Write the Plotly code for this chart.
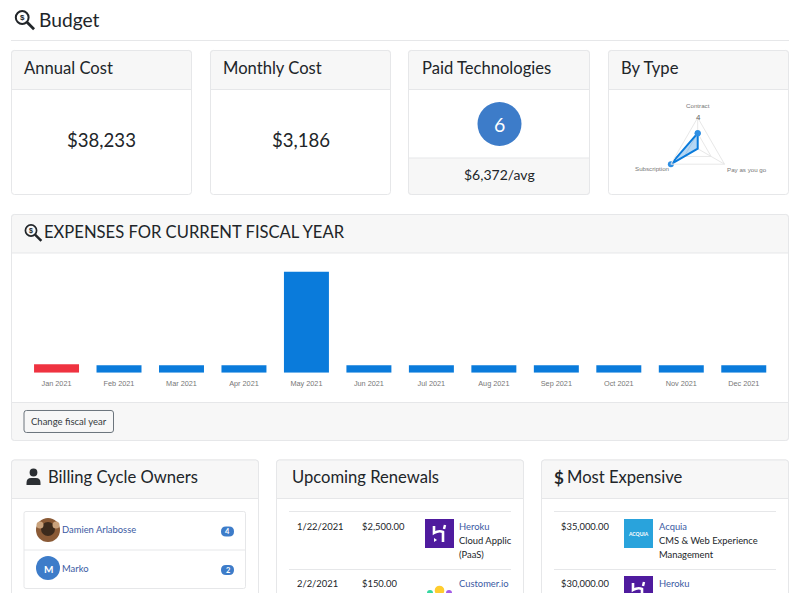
import plotly.graph_objects as go

# ---------- data ----------
months = ["Jan 2021", "Feb 2021", "Mar 2021", "Apr 2021", "May 2021", "Jun 2021",
          "Jul 2021", "Aug 2021", "Sep 2021", "Oct 2021", "Nov 2021", "Dec 2021"]
expenses = [1750, 1540, 1540, 1540, 21000, 1540, 1540, 1540, 1540, 1540, 1540, 1540]
bar_colors = ["#ef3340"] + ["#0a7bdb"] * 11
type_names = ["Contract", "Pay as you go", "Subscription"]
type_counts = [2, 0, 4]

W, H = 800, 593
FONT = "Lato"
INK = "#212529"
LINK = "#3b5aa3"
BORDER = "#e6e7e9"
HEAD = "#f7f7f7"
BLUE = "#3d7cc9"
BODY = 9.4
TITLE = 16.6

shapes, notes = [], []


def X(v):
    return v / W


def Y(v):
    return 1 - v / H


def rounded(x0, y0, x1, y1, r):
    return (f"M{x0+r},{y0} L{x1-r},{y0} Q{x1},{y0} {x1},{y0+r} L{x1},{y1-r} Q{x1},{y1} {x1-r},{y1} "
            f"L{x0+r},{y1} Q{x0},{y1} {x0},{y1-r} L{x0},{y0+r} Q{x0},{y0} {x0+r},{y0} Z")


def px_path(d):
    """Path given in pixel coordinates -> paper coordinates."""
    out, toks = [], d.replace("Z", " Z ").split()
    for t in toks:
        if t == "Z":
            out.append("Z")
            continue
        cmd = t[0] if t[0].isalpha() else ""
        nums = t[len(cmd):].split(",")
        out.append(f"{cmd}{X(float(nums[0])):.5f},{Y(float(nums[1])):.5f}")
    return " ".join(out)


def path(d, fill=None, line=None, lw=1):
    shapes.append(dict(type="path", xref="paper", yref="paper", path=px_path(d), layer="below",
                       fillcolor=fill or "rgba(0,0,0,0)",
                       line=dict(color=line or "rgba(0,0,0,0)", width=lw if line else 0)))


def rect(x0, y0, x1, y1, fill=None, line=None, r=0, lw=1):
    if r:
        path(rounded(x0, y0, x1, y1, r), fill, line, lw)
    else:
        shapes.append(dict(type="rect", xref="paper", yref="paper", x0=X(x0), x1=X(x1), y0=Y(y0), y1=Y(y1),
                           layer="below", fillcolor=fill or "rgba(0,0,0,0)",
                           line=dict(color=line or "rgba(0,0,0,0)", width=lw if line else 0)))


def circle(cx, cy, r, fill=None, line=None, lw=1):
    shapes.append(dict(type="circle", xref="paper", yref="paper", x0=X(cx - r), x1=X(cx + r), y0=Y(cy - r),
                       y1=Y(cy + r), layer="below", fillcolor=fill or "rgba(0,0,0,0)",
                       line=dict(color=line or "rgba(0,0,0,0)", width=lw if line else 0)))


def hline(x0, x1, y, color=BORDER, lw=1):
    shapes.append(dict(type="line", xref="paper", yref="paper", x0=X(x0), x1=X(x1), y0=Y(y), y1=Y(y),
                       layer="below", line=dict(color=color, width=lw)))


def text(x, y, s, size=10, color=INK, anchor="left", family=FONT, bold=False):
    notes.append(dict(xref="paper", yref="paper", x=X(x), y=Y(y), text=f"<b>{s}</b>" if bold else s,
                      showarrow=False, xanchor=anchor, yanchor="middle",
                      font=dict(family=family, size=size, color=color), borderpad=0, borderwidth=0))


def card(x0, y0, x1, y1, head_bottom, title, tx, size=TITLE, foot_top=None):
    rect(x0, y0, x1, y1, "#ffffff", BORDER, 3)
    r = 3
    path(f"M{x0},{head_bottom} L{x0},{y0+r} Q{x0},{y0} {x0+r},{y0} L{x1-r},{y0} Q{x1},{y0} {x1},{y0+r} "
         f"L{x1},{head_bottom} Z", HEAD, BORDER)
    if foot_top:
        path(f"M{x0},{foot_top} L{x1},{foot_top} L{x1},{y1-r} Q{x1},{y1} {x1-r},{y1} L{x0+r},{y1} "
             f"Q{x0},{y1} {x0},{y1-r} Z", HEAD, BORDER)
    text(tx, (y0 + head_bottom) / 2 - 2, title, size)


def search_dollar(cx, cy, r, lw):
    circle(cx, cy, r, None, "#212529", lw)
    hx = r * 0.72
    path(f"M{cx+hx},{cy+hx} L{cx+r*1.85},{cy+r*1.85}", None, "#212529", lw + 0.8)
    text(cx, cy + 0.3, "$", r * 1.25, "#212529", "center", "Liberation Sans", True)


def heroku(x0, y0):
    rect(x0, y0, x0 + 29, y0 + 29, "#4f1b9e")
    path(f"M{x0+9},{y0+7} L{x0+9},{y0+14} Q{x0+14},{y0+11} {x0+18},{y0+13} L{x0+18},{y0+23}",
         None, "#ffffff", 2.6)
    path(f"M{x0+20},{y0+6} L{x0+19},{y0+10}", None, "#ffffff", 2.4)
    path(f"M{x0+9},{y0+19} L{x0+12},{y0+21} L{x0+9},{y0+23} Z", "#ffffff")


# ---------- page header ----------
search_dollar(22.2, 17.5, 6.4, 2)
text(39, 19.5, "Budget", 19.2)
hline(11, 789, 40.5)

# ---------- stat cards ----------
card(11.5, 50.5, 191.5, 194.5, 89.5, "Annual Cost", 24)
text(101.5, 140, "$38,233", 18.6, INK, "center")
card(210.5, 50.5, 390.5, 194.5, 89.5, "Monthly Cost", 223)
text(300.5, 140, "$3,186", 18.6, INK, "center")
card(408.5, 50.5, 589.5, 194.5, 89.5, "Paid Technologies", 421.5, foot_top=158)
circle(499.5, 124, 22, BLUE)
text(499.5, 124.5, "6", 19.5, "#ffffff", "center")
text(499.5, 174.5, "$6,372/avg", 14, INK, "center")
card(608.5, 50.5, 788.5, 194.5, 89.5, "By Type", 620.5)

# ---------- expenses ----------
card(11.5, 214.5, 788.5, 440.5, 253, "EXPENSES FOR CURRENT FISCAL YEAR", 44)
path("M11.5,402.5 L788.5,402.5 L788.5,437.5 Q788.5,440.5 785.5,440.5 L14.5,440.5 Q11.5,440.5 11.5,437.5 Z",
     HEAD, BORDER)
search_dollar(31, 230.5, 5.6, 1.7)
rect(24, 410.5, 113.5, 432.5, "#f7f7f7", "#6c757d", 2.5)
text(68.7, 421.5, "Change fiscal year", 9.5, "#343a40", "center")

# ---------- bottom cards ----------
card(11.5, 460, 258.5, 610, 498.5, "Billing Cycle Owners", 48)
circle(33.5, 472.5, 3.9, "#2b2f33")
path("M26.5,485 L26.5,483 Q26.5,478 31,478 L36,478 Q40.5,478 40.5,483 L40.5,485 Z", "#2b2f33")
rect(24, 511.5, 245.5, 588.5, "#ffffff", BORDER, 2)
hline(24, 245.5, 550)
circle(48, 530, 12, "#8a5a36")
circle(48, 529, 7, "#3c2a1c")
circle(40, 525, 3.5, "#c9a27c")
circle(56, 525, 3.5, "#c9a27c")
text(62, 529.5, "Damien Arlabosse", BODY, LINK)
circle(48, 568, 12, BLUE)
text(48, 569, "M", 10, "#ffffff", "center", FONT, True)
text(62, 568, "Marko", BODY, LINK)
for by, n in [(531.5, "4"), (570, "2")]:
    rect(221, by - 5, 234, by + 5, BLUE, None, 5)
    text(227.5, by, n, 7.5, "#ffffff", "center", FONT, True)

card(276.5, 460, 523.5, 610, 498.5, "Upcoming Renewals", 292)
hline(289, 511, 511.5)
hline(289, 511, 569.5)
text(296.5, 526, "1/22/2021", BODY)
text(362, 526, "$2,500.00", BODY)
heroku(425, 519)
text(459, 526, "Heroku", BODY, LINK)
text(459, 540, "Cloud Applic", BODY)
text(459, 554, "(PaaS)", BODY)
text(296.5, 583, "2/2/2021", BODY)
text(362, 583, "$150.00", BODY)
text(459, 583, "Customer.io", BODY, LINK)
circle(439.5, 590.5, 4.8, "#ffcd2e")
circle(430, 593, 3, "#35d6a0")
circle(449, 593, 3, "#a25be6")

card(541.5, 460, 788.5, 610, 498.5, "Most Expensive", 566.5)
text(559, 477, "$", 17, "#212529", "center", FONT, True)
hline(554, 776, 511.5)
hline(554, 776, 569.5)
text(561, 526, "$35,000.00", BODY)
rect(624, 519, 653, 548, "#29a3dc")
text(638.5, 533.5, "ACQUIA", 5, "#ffffff", "center", FONT, True)
text(658.5, 526, "Acquia", BODY, LINK)
text(658.5, 540, "CMS &amp; Web Experience", BODY)
text(658.5, 554, "Management", BODY)
text(561, 583, "$30,000.00", BODY)
heroku(624, 576)
text(658.5, 583, "Heroku", BODY, LINK)

# ---------- figure ----------
fig = go.Figure()
fig.add_trace(go.Bar(x=months, y=expenses, marker=dict(color=bar_colors, line=dict(width=0)),
                     width=0.72, showlegend=False, xaxis="x", yaxis="y"))
fig.add_trace(go.Scatterpolar(
    r=type_counts + type_counts[:1], theta=type_names + type_names[:1],
    mode="lines+markers", fill="toself", fillcolor="rgba(10,123,219,0.3)",
    line=dict(color="#0a7bdb", width=2), marker=dict(color="#2f8fe3", size=6),
    cliponaxis=False, showlegend=False, subplot="polar"))

RADAR_FONT = "Liberation Sans"
text(698, 117.5, "4", 8, "#666666", "center", RADAR_FONT)
text(697.7, 105.5, type_names[0], 6.2, "#777777", "center", RADAR_FONT)
text(669.5, 168.5, type_names[2], 6.2, "#777777", "right", RADAR_FONT)
text(727, 169, type_names[1], 6.2, "#777777", "left", RADAR_FONT)

fig.update_layout(
    width=W, height=H, autosize=False,
    margin=dict(l=0, r=0, t=0, b=0),
    paper_bgcolor="#ffffff", plot_bgcolor="rgba(0,0,0,0)",
    shapes=shapes, annotations=notes,
    bargap=0.28,
    xaxis=dict(domain=[X(25.3), X(775)], showgrid=False, zeroline=False, showline=False, ticks="",
               tickfont=dict(family="Liberation Sans", size=7.3, color="#777777"), tickangle=0,
               ticklabelstandoff=5, type="category", fixedrange=True),
    yaxis=dict(domain=[Y(372.7), Y(260)], range=[0, 23430], visible=False, fixedrange=True),
    polar=dict(
        domain=dict(x=[X(666.7), X(728.7)], y=[Y(179.7), Y(117.7)]),
        bgcolor="rgba(0,0,0,0)", gridshape="linear",
        radialaxis=dict(range=[0, 4], tickvals=[2, 4], showticklabels=False, showline=False, ticks="",
                        gridcolor="#e8e8e8", gridwidth=1, angle=90),
        angularaxis=dict(direction="clockwise", rotation=90, ticks="", gridcolor="#e8e8e8",
                         linecolor="#e8e8e8", showticklabels=False),
    ),
)

fig.write_html("out.html", config=dict(displayModeBar=False),
               post_script="document.body.style.margin='0';document.body.style.overflow='hidden';")
